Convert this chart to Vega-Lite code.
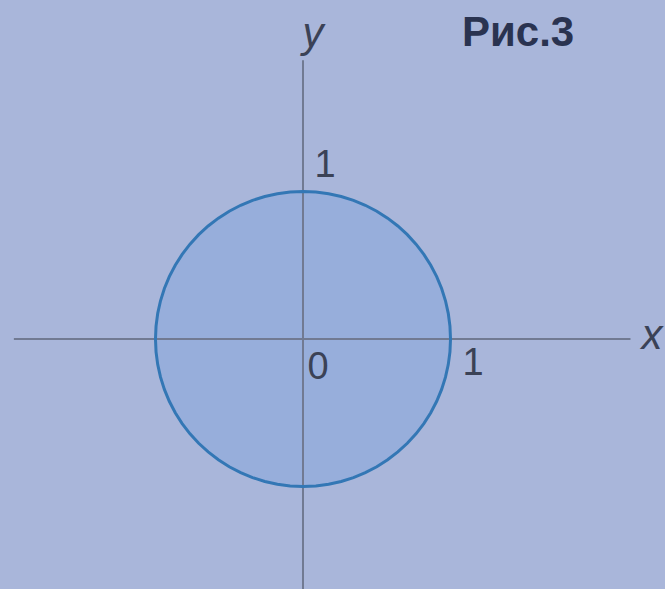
{
  "$schema": "https://vega.github.io/schema/vega-lite/v6.json",
  "width": 665,
  "height": 589,
  "autosize": {"type": "none"},
  "padding": 0,
  "background": "#a9b6da",
  "view": {"stroke": null},
  "datasets": {
    "circle": [
      {"a": 0, "x": 1, "y": 0, "yneg": 0},
      {"a": 5, "x": 0.9962, "y": 0.0872, "yneg": -0.0872},
      {"a": 10, "x": 0.9848, "y": 0.1736, "yneg": -0.1736},
      {"a": 15, "x": 0.9659, "y": 0.2588, "yneg": -0.2588},
      {"a": 20, "x": 0.9397, "y": 0.342, "yneg": -0.342},
      {"a": 25, "x": 0.9063, "y": 0.4226, "yneg": -0.4226},
      {"a": 30, "x": 0.866, "y": 0.5, "yneg": -0.5},
      {"a": 35, "x": 0.8192, "y": 0.5736, "yneg": -0.5736},
      {"a": 40, "x": 0.766, "y": 0.6428, "yneg": -0.6428},
      {"a": 45, "x": 0.7071, "y": 0.7071, "yneg": -0.7071},
      {"a": 50, "x": 0.6428, "y": 0.766, "yneg": -0.766},
      {"a": 55, "x": 0.5736, "y": 0.8192, "yneg": -0.8192},
      {"a": 60, "x": 0.5, "y": 0.866, "yneg": -0.866},
      {"a": 65, "x": 0.4226, "y": 0.9063, "yneg": -0.9063},
      {"a": 70, "x": 0.342, "y": 0.9397, "yneg": -0.9397},
      {"a": 75, "x": 0.2588, "y": 0.9659, "yneg": -0.9659},
      {"a": 80, "x": 0.1736, "y": 0.9848, "yneg": -0.9848},
      {"a": 85, "x": 0.0872, "y": 0.9962, "yneg": -0.9962},
      {"a": 90, "x": 0, "y": 1, "yneg": -1},
      {"a": 95, "x": -0.0872, "y": 0.9962, "yneg": -0.9962},
      {"a": 100, "x": -0.1736, "y": 0.9848, "yneg": -0.9848},
      {"a": 105, "x": -0.2588, "y": 0.9659, "yneg": -0.9659},
      {"a": 110, "x": -0.342, "y": 0.9397, "yneg": -0.9397},
      {"a": 115, "x": -0.4226, "y": 0.9063, "yneg": -0.9063},
      {"a": 120, "x": -0.5, "y": 0.866, "yneg": -0.866},
      {"a": 125, "x": -0.5736, "y": 0.8192, "yneg": -0.8192},
      {"a": 130, "x": -0.6428, "y": 0.766, "yneg": -0.766},
      {"a": 135, "x": -0.7071, "y": 0.7071, "yneg": -0.7071},
      {"a": 140, "x": -0.766, "y": 0.6428, "yneg": -0.6428},
      {"a": 145, "x": -0.8192, "y": 0.5736, "yneg": -0.5736},
      {"a": 150, "x": -0.866, "y": 0.5, "yneg": -0.5},
      {"a": 155, "x": -0.9063, "y": 0.4226, "yneg": -0.4226},
      {"a": 160, "x": -0.9397, "y": 0.342, "yneg": -0.342},
      {"a": 165, "x": -0.9659, "y": 0.2588, "yneg": -0.2588},
      {"a": 170, "x": -0.9848, "y": 0.1736, "yneg": -0.1736},
      {"a": 175, "x": -0.9962, "y": 0.0872, "yneg": -0.0872},
      {"a": 180, "x": -1, "y": 0, "yneg": 0},
      {"a": 185, "x": -0.9962, "y": -0.0872, "yneg": 0.0872},
      {"a": 190, "x": -0.9848, "y": -0.1736, "yneg": 0.1736},
      {"a": 195, "x": -0.9659, "y": -0.2588, "yneg": 0.2588},
      {"a": 200, "x": -0.9397, "y": -0.342, "yneg": 0.342},
      {"a": 205, "x": -0.9063, "y": -0.4226, "yneg": 0.4226},
      {"a": 210, "x": -0.866, "y": -0.5, "yneg": 0.5},
      {"a": 215, "x": -0.8192, "y": -0.5736, "yneg": 0.5736},
      {"a": 220, "x": -0.766, "y": -0.6428, "yneg": 0.6428},
      {"a": 225, "x": -0.7071, "y": -0.7071, "yneg": 0.7071},
      {"a": 230, "x": -0.6428, "y": -0.766, "yneg": 0.766},
      {"a": 235, "x": -0.5736, "y": -0.8192, "yneg": 0.8192},
      {"a": 240, "x": -0.5, "y": -0.866, "yneg": 0.866},
      {"a": 245, "x": -0.4226, "y": -0.9063, "yneg": 0.9063},
      {"a": 250, "x": -0.342, "y": -0.9397, "yneg": 0.9397},
      {"a": 255, "x": -0.2588, "y": -0.9659, "yneg": 0.9659},
      {"a": 260, "x": -0.1736, "y": -0.9848, "yneg": 0.9848},
      {"a": 265, "x": -0.0872, "y": -0.9962, "yneg": 0.9962},
      {"a": 270, "x": 0, "y": -1, "yneg": 1},
      {"a": 275, "x": 0.0872, "y": -0.9962, "yneg": 0.9962},
      {"a": 280, "x": 0.1736, "y": -0.9848, "yneg": 0.9848},
      {"a": 285, "x": 0.2588, "y": -0.9659, "yneg": 0.9659},
      {"a": 290, "x": 0.342, "y": -0.9397, "yneg": 0.9397},
      {"a": 295, "x": 0.4226, "y": -0.9063, "yneg": 0.9063},
      {"a": 300, "x": 0.5, "y": -0.866, "yneg": 0.866},
      {"a": 305, "x": 0.5736, "y": -0.8192, "yneg": 0.8192},
      {"a": 310, "x": 0.6428, "y": -0.766, "yneg": 0.766},
      {"a": 315, "x": 0.7071, "y": -0.7071, "yneg": 0.7071},
      {"a": 320, "x": 0.766, "y": -0.6428, "yneg": 0.6428},
      {"a": 325, "x": 0.8192, "y": -0.5736, "yneg": 0.5736},
      {"a": 330, "x": 0.866, "y": -0.5, "yneg": 0.5},
      {"a": 335, "x": 0.9063, "y": -0.4226, "yneg": 0.4226},
      {"a": 340, "x": 0.9397, "y": -0.342, "yneg": 0.342},
      {"a": 345, "x": 0.9659, "y": -0.2588, "yneg": 0.2588},
      {"a": 350, "x": 0.9848, "y": -0.1736, "yneg": 0.1736},
      {"a": 355, "x": 0.9962, "y": -0.0872, "yneg": 0.0872},
      {"a": 360, "x": 1, "y": 0, "yneg": 0}
    ],
    "axes": [
      {"x": -1.96, "x2": 2.22, "y": 0, "y2": 0},
      {"x": 0, "x2": 0, "y": -1.75, "y2": 1.89}
    ],
    "vars": [
      {"x": 0.068, "y": 2.07, "t": "y"},
      {"x": 2.366, "y": 0.02, "t": "x"}
    ],
    "nums": [
      {"x": 0.149, "y": 1.175, "t": "1"},
      {"x": 0.102, "y": -0.197, "t": "0"},
      {"x": 1.153, "y": -0.169, "t": "1"}
    ],
    "title": [
      {"x": 1.458, "y": 2.075, "t": "Рис.3"}
    ]
  },
  "layer": [
    {
      "data": {"name": "circle"},
      "transform": [{"filter": "datum.a <= 180"}],
      "mark": {"type": "area", "color": "#97aedb", "opacity": 1},
      "encoding": {
        "x": {"field": "x", "type": "quantitative", "scale": {"domain": [-2.054, 2.454], "nice": false, "zero": false}, "axis": null},
        "y": {"field": "y", "type": "quantitative", "scale": {"domain": [-1.695, 2.298], "nice": false, "zero": false}, "axis": null},
        "y2": {"field": "yneg"}
      }
    },
    {
      "data": {"name": "axes"},
      "mark": {"type": "rule", "color": "#717a92", "strokeWidth": 2},
      "encoding": {
        "x": {"field": "x", "type": "quantitative"},
        "x2": {"field": "x2"},
        "y": {"field": "y", "type": "quantitative"},
        "y2": {"field": "y2"}
      }
    },
    {
      "data": {"name": "circle"},
      "mark": {"type": "line", "color": "#3377b5", "strokeWidth": 3},
      "encoding": {
        "x": {"field": "x", "type": "quantitative"},
        "y": {"field": "y", "type": "quantitative"},
        "order": {"field": "a", "type": "quantitative"}
      }
    },
    {
      "data": {"name": "vars"},
      "mark": {"type": "text", "font": "Liberation Sans", "fontSize": 42, "fontStyle": "italic", "color": "#3b4256", "baseline": "middle", "align": "center"},
      "encoding": {
        "x": {"field": "x", "type": "quantitative"},
        "y": {"field": "y", "type": "quantitative"},
        "text": {"field": "t"}
      }
    },
    {
      "data": {"name": "nums"},
      "mark": {"type": "text", "font": "Liberation Sans", "fontSize": 38, "color": "#3b4256", "baseline": "middle", "align": "center"},
      "encoding": {
        "x": {"field": "x", "type": "quantitative"},
        "y": {"field": "y", "type": "quantitative"},
        "text": {"field": "t"}
      }
    },
    {
      "data": {"name": "title"},
      "mark": {"type": "text", "font": "Liberation Sans", "fontSize": 42, "fontWeight": "bold", "color": "#2a3350", "baseline": "middle", "align": "center"},
      "encoding": {
        "x": {"field": "x", "type": "quantitative"},
        "y": {"field": "y", "type": "quantitative"},
        "text": {"field": "t"}
      }
    }
  ]
}
